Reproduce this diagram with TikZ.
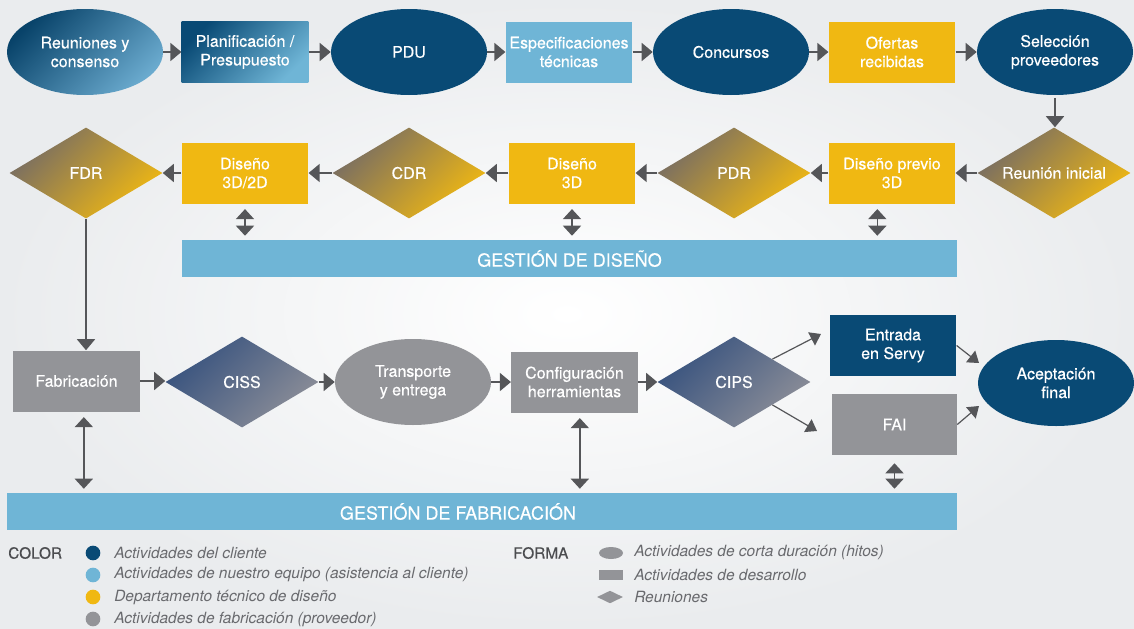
\documentclass[tikz,border=0pt]{standalone}
\usepackage{fontspec}
\setmainfont{TeX Gyre Heros}
\newfontfamily\nodofont[FakeBold=0.4]{TeX Gyre Heros}
\usetikzlibrary{shapes.geometric,arrows.meta,calc}

\definecolor{cliente}{RGB}{9,74,117}
\definecolor{clienteclaro}{RGB}{106,170,206}
\definecolor{equipo}{RGB}{111,181,214}
\definecolor{diseno}{RGB}{240,184,18}
\definecolor{fabrica}{RGB}{147,148,152}
\definecolor{flecha}{RGB}{85,86,89}
\definecolor{pardo}{RGB}{118,108,100}
\definecolor{pizarra}{RGB}{55,82,126}
\definecolor{pizarragris}{RGB}{140,142,152}
\definecolor{fondo}{RGB}{234,236,238}
\definecolor{textoley}{RGB}{105,106,110}
\definecolor{tituloley}{RGB}{75,76,79}

\begin{document}
\begin{tikzpicture}[x=0.75pt,y=-0.75pt,
    every node/.style={text=white,font=\nodofont\fontsize{12}{14}\selectfont,align=center,inner sep=0pt},
    hito/.style={ellipse,minimum width=117pt,minimum height=64.5pt},
    tarea/.style={rectangle,minimum width=95pt,minimum height=45.75pt},
    junta/.style={diamond,aspect=1.7,minimum width=114.75pt,minimum height=68.25pt},
    junta diseno/.style={junta,top color=pardo,bottom color=diseno,shading angle=45},
    junta fab/.style={junta,top color=pizarra,bottom color=pizarragris,shading angle=45},
    barra/.style={rectangle,fill=equipo,minimum height=27.75pt,font=\nodofont\fontsize{13.5}{16}\selectfont},
    flujo/.style={draw=flecha,line width=1.1pt,-{Triangle[length=8.25pt,width=13.5pt]}},
    oblicua/.style={draw=flecha,line width=0.9pt,-{Triangle[length=8pt,width=11pt]}},
    doble/.style={draw=flecha,line width=1.1pt,{Triangle[length=7.5pt,width=13.5pt]}-{Triangle[length=7.5pt,width=13.5pt]}},
    ley/.style={text=textoley,font=\fontsize{11.6}{14}\selectfont\itshape,anchor=west},
    leytit/.style={text=tituloley,font=\nodofont\fontsize{11.5}{14}\selectfont,anchor=west},
    punto/.style={circle,minimum size=11pt}]
      \fill[inner color=white,outer color=fondo] (0,0) rectangle (1134,628);
      \draw
        (85,52) node[hito,top color=cliente!90!black,bottom color=clienteclaro,shading angle=45] (reun){Reuniones y\\consenso}
        (245,52) node[tarea,top color=cliente,bottom color=equipo,shading angle=45] (plan){Planificación /\\Presupuesto}
        (409,52) node[hito,fill=cliente] (pdu){PDU}
        (569,52) node[tarea,fill=equipo] (espec){Especificaciones\\técnicas}
        (731,52) node[hito,fill=cliente] (conc){Concursos}
        (892,52) node[tarea,fill=diseno] (ofer){Ofertas\\recibidas}
        (1055,52) node[hito,fill=cliente] (selec){Selección\\proveedores}
        (1054,173) node[junta diseno] (rini){Reunión inicial}
        (892,173) node[tarea,fill=diseno] (dprev){Diseño previo\\3D}
        (734,173) node[junta diseno] (pdr){PDR}
        (572,173) node[tarea,fill=diseno] (d3){Diseño\\3D}
        (409,173) node[junta diseno] (cdr){CDR}
        (245,173) node[tarea,fill=diseno] (d32){Diseño\\3D/2D}
        (86,173) node[junta diseno] (fdr){FDR}
        (569.5,258.5) node[barra,minimum width=581.25pt] (gdis){GESTIÓN DE DISEÑO}
        (76.5,381) node[tarea,fill=fabrica] (fab){Fabricación}
        (242,382) node[junta fab] (ciss){CISS}
        (413,382) node[hito,fill=fabrica] (trans){Transporte\\y entrega}
        (574.5,382) node[tarea,fill=fabrica] (conf){Configuración\\herramientas}
        (734,382) node[junta fab] (cips){CIPS}
        (893,345.5) node[tarea,fill=cliente] (entr){Entrada\\en Servy}
        (894.5,424.5) node[tarea,fill=fabrica,minimum width=93.75pt] (fai){FAI}
        (1056,383) node[hito,fill=cliente] (acep){Aceptación\\final}
        (482,511.5) node[barra,minimum width=712.5pt] (gfab){}
        (458,511.5) node[font=\nodofont\fontsize{13.5}{16}\selectfont] (tgfab){GESTIÓN DE FABRICACIÓN};
      \coordinate (pe) at (821,334);
      \coordinate (pf) at (817,431);
      \coordinate (ae) at (979,363);
      \coordinate (af) at (979,406);
      \begin{scope}
        \draw[flujo] (reun) -- (plan);
        \draw[flujo] (plan) -- (pdu);
        \draw[flujo] (pdu) -- (espec);
        \draw[flujo] (espec) -- (conc);
        \draw[flujo] (conc) -- (ofer);
        \draw[flujo] (ofer) -- (selec);
        \draw[flujo,shorten <=2pt] (selec.south) -- (selec.south |- rini.north);
        \draw[flujo] (rini) -- (dprev);
        \draw[flujo] (dprev) -- (pdr);
        \draw[flujo] (pdr) -- (d3);
        \draw[flujo] (d3) -- (cdr);
        \draw[flujo] (cdr) -- (d32);
        \draw[flujo] (d32) -- (fdr);
        \draw[flujo] (fdr.south) -- (fdr.south |- fab.north);
        \draw[flujo] (fab.east) -- (fab.east -| ciss.west);
        \draw[flujo] (ciss) -- (trans);
        \draw[flujo] (trans) -- (conf);
        \draw[flujo] (conf) -- (cips);
        \draw[oblicua] (cips.north east) -- (pe);
        \draw[oblicua] (cips.south east) -- (pf);
        \draw[oblicua] (entr.east) -- (ae);
        \draw[oblicua] (fai.east) -- (af);
        \draw[doble,shorten <=4pt,shorten >=3pt] (d32.south) -- (d32.south |- gdis.north);
        \draw[doble,shorten <=4pt,shorten >=3pt] (d3.south) -- (d3.south |- gdis.north);
        \draw[doble,shorten <=4pt,shorten >=3pt] ([xshift=-11pt]dprev.south) -- ([xshift=-11pt]dprev.south |- gdis.north);
        \draw[doble,shorten <=4pt,shorten >=3pt] ([xshift=5.5pt]fab.south) -- ([xshift=5.5pt]fab.south |- gfab.north);
        \draw[doble,shorten <=4pt,shorten >=3pt] ([xshift=4pt]conf.south) -- ([xshift=4pt]conf.south |- gfab.north);
        \draw[doble,shorten <=6pt,shorten >=3pt] (fai.south) -- (fai.south |- gfab.north);
      \end{scope}
      \draw
        (8,553) node[leytit] (lcolor){COLOR}
        (93,553) node[punto,fill=cliente] (pc1){}
        (93,575) node[punto,fill=equipo] (pc2){}
        (93,597) node[punto,fill=diseno] (pc3){}
        (93,619) node[punto,fill=fabrica] (pc4){}
        (114,553) node[ley] (tc1){Actividades del cliente}
        (114,575) node[ley] (tc2){Actividades de nuestro equipo (asistencia al cliente)}
        (114,597) node[ley] (tc3){Departamento técnico de diseño}
        (114,619) node[ley] (tc4){Actividades de fabricación (proveedor)}
        (513,553) node[leytit] (lforma){FORMA}
        (611,553) node[ellipse,fill=fabrica,minimum width=18pt,minimum height=9pt] (fe){}
        (611,575) node[rectangle,fill=fabrica,minimum width=18pt,minimum height=7.5pt] (fr){}
        (610,597) node[diamond,fill=fabrica,minimum width=19.5pt,minimum height=9.5pt] (fd){}
        (634,553) node[ley] (tf1){Actividades de corta duración (hitos)}
        (634,575) node[ley] (tf2){Actividades de desarrollo}
        (634,597) node[ley] (tf3){Reuniones};
    \end{tikzpicture}
\end{document}
